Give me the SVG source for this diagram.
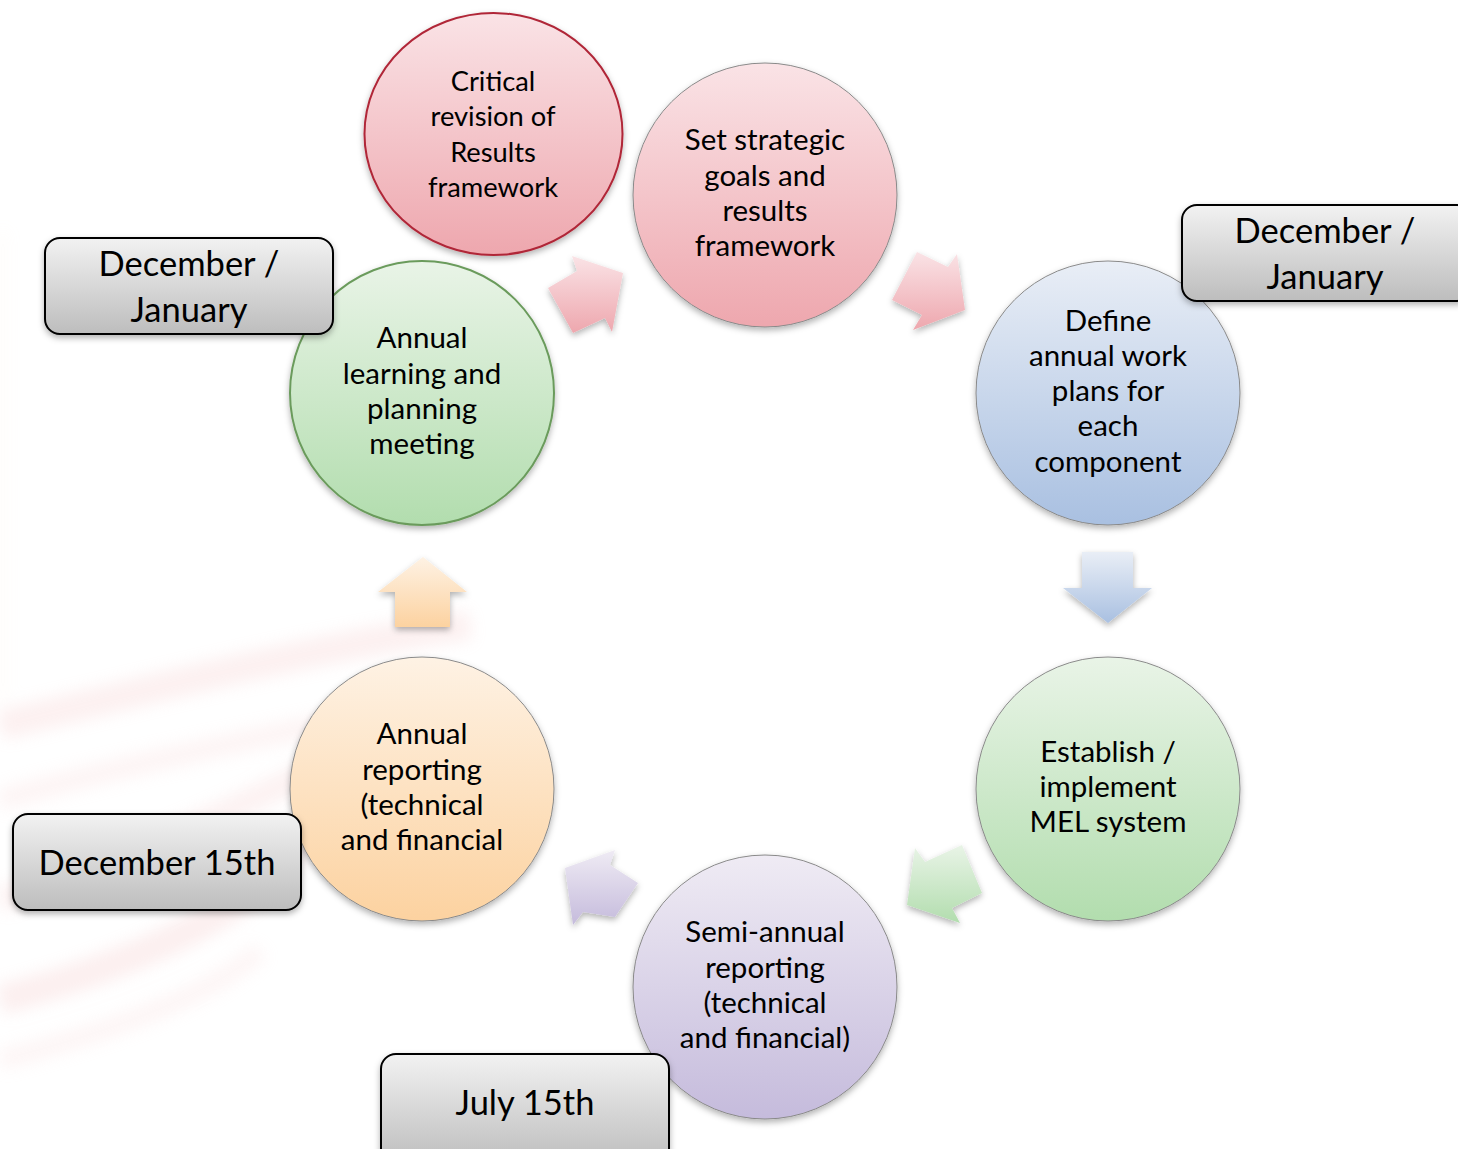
<svg xmlns="http://www.w3.org/2000/svg" width="1458" height="1149" viewBox="0 0 1458 1149">
<defs>
<linearGradient id="gPink" x1="0" y1="0" x2="0" y2="1"><stop offset="0" stop-color="#fae3e6"/><stop offset="1" stop-color="#eea7ae"/></linearGradient>
<linearGradient id="gBlue" x1="0" y1="0" x2="0" y2="1"><stop offset="0" stop-color="#e9eef6"/><stop offset="1" stop-color="#a9c0e1"/></linearGradient>
<linearGradient id="gGreen" x1="0" y1="0" x2="0" y2="1"><stop offset="0" stop-color="#e9f4e7"/><stop offset="1" stop-color="#b2ddae"/></linearGradient>
<linearGradient id="gPurple" x1="0" y1="0" x2="0" y2="1"><stop offset="0" stop-color="#efebf4"/><stop offset="1" stop-color="#c5bbdc"/></linearGradient>
<linearGradient id="gOrange" x1="0" y1="0" x2="0" y2="1"><stop offset="0" stop-color="#fef2e4"/><stop offset="1" stop-color="#fcd2a0"/></linearGradient>
<linearGradient id="gGray" x1="0" y1="0" x2="0" y2="1"><stop offset="0" stop-color="#f2f2f2"/><stop offset="1" stop-color="#bdbdbd"/></linearGradient>
<filter id="sh" x="-20%" y="-20%" width="140%" height="140%"><feDropShadow dx="0" dy="3" stdDeviation="3" flood-color="#000" flood-opacity="0.3"/></filter>
<filter id="blur" x="-10%" y="-10%" width="120%" height="120%"><feGaussianBlur stdDeviation="8"/></filter>
<style>
.ct{font-family:Lato,"Open Sans","Liberation Sans",sans-serif;font-size:29.5px;fill:#000;text-anchor:middle}
.ct2{font-family:Lato,"Open Sans","Liberation Sans",sans-serif;font-size:27.3px;fill:#000;text-anchor:middle}
.lt{font-family:Lato,"Open Sans","Liberation Sans",sans-serif;font-size:34.5px;fill:#000;text-anchor:middle}
.lbl{fill:url(#gGray);stroke:#000;stroke-width:2;filter:url(#sh)}
.arr{filter:url(#sh)}
.cg{stroke:#8a8a8a;stroke-width:1;filter:url(#sh)}
</style>
</defs>
<rect width="1458" height="1149" fill="#fff"/>
<g id="background" opacity="0.2" filter="url(#blur)" fill="none">
<path d="M0,725 C150,690 300,650 470,625" stroke="#f2b8b8" stroke-width="30"/>
<path d="M0,800 C140,760 300,730 440,700" stroke="#f6cccc" stroke-width="22"/>
<path d="M0,900 C120,860 260,800 330,760" stroke="#f3c0c0" stroke-width="26"/>
<path d="M0,1000 C150,960 280,900 310,820" stroke="#f0b0b0" stroke-width="30"/>
<path d="M0,1060 C120,1030 220,990 260,950" stroke="#f6d0d0" stroke-width="20"/>
<path d="M3,230 L3,700" stroke="#fbe2c8" stroke-width="4"/>
</g>
<g id="connectors">
<polygon class="arr" fill="url(#gPink)" points="548,288 577,271 572,256 623,273 612,332 605,318 573,333"/>
<polygon class="arr" fill="url(#gPink)" points="917,252 948,267 957,254 965,310 913,330 922,315 892,300"/>
<polygon class="arr" fill="url(#gBlue)" points="1082,552 1133,552 1133,588 1152,588 1108,623 1063,588 1082,588"/>
<polygon class="arr" fill="url(#gGreen)" points="915,848 925,862 962,845 982,893 952,908 960,923 907,905"/>
<polygon class="arr" fill="url(#gPurple)" points="565,868 615,850 610,865 638,883 615,917 583,912 573,925"/>
<polygon class="arr" fill="url(#gOrange)" points="423,557 467,592 450,592 450,627 395,627 395,592 378,592"/>
</g>
<g id="n-critical">
<ellipse cx="493.5" cy="134" rx="129" ry="121" fill="url(#gPink)" stroke="#b02637" stroke-width="2" filter="url(#sh)"/>
<text class="ct2" x="493" y="91">Critical</text>
<text class="ct2" x="493" y="126">revision of</text>
<text class="ct2" x="493" y="162">Results</text>
<text class="ct2" x="493" y="197">framework</text>
</g>
<g id="n-strategic">
<circle class="cg" cx="765" cy="195" r="132" fill="url(#gPink)"/>
<text class="ct" x="765" y="150">Set strategic</text>
<text class="ct" x="765" y="186">goals and</text>
<text class="ct" x="765" y="221">results</text>
<text class="ct" x="765" y="256">framework</text>
</g>
<g id="n-define">
<circle class="cg" cx="1108" cy="393" r="132" fill="url(#gBlue)"/>
<text class="ct" x="1108" y="331">Define</text>
<text class="ct" x="1108" y="366">annual work</text>
<text class="ct" x="1108" y="401">plans for</text>
<text class="ct" x="1108" y="436">each</text>
<text class="ct" x="1108" y="472">component</text>
</g>
<g id="n-establish">
<circle class="cg" cx="1108" cy="789" r="132" fill="url(#gGreen)"/>
<text class="ct" x="1108" y="762">Establish /</text>
<text class="ct" x="1108" y="797">implement</text>
<text class="ct" x="1108" y="832">MEL system</text>
</g>
<g id="n-semiannual">
<circle class="cg" cx="765" cy="987" r="132" fill="url(#gPurple)"/>
<text class="ct" x="765" y="942">Semi-annual</text>
<text class="ct" x="765" y="978">reporting</text>
<text class="ct" x="765" y="1013">(technical</text>
<text class="ct" x="765" y="1048">and financial)</text>
</g>
<g id="n-annualreport">
<circle class="cg" cx="422" cy="789" r="132" fill="url(#gOrange)"/>
<text class="ct" x="422" y="744">Annual</text>
<text class="ct" x="422" y="780">reporting</text>
<text class="ct" x="422" y="815">(technical</text>
<text class="ct" x="422" y="850">and financial</text>
</g>
<g id="n-learning">
<circle cx="422" cy="393" r="132" fill="url(#gGreen)" stroke="#6b9b5c" stroke-width="2" filter="url(#sh)"/>
<text class="ct" x="422" y="348">Annual</text>
<text class="ct" x="422" y="384">learning and</text>
<text class="ct" x="422" y="419">planning</text>
<text class="ct" x="422" y="454">meeting</text>
</g>
<g id="l-decjan-left">
<rect class="lbl" x="45" y="238" width="288" height="96" rx="15"/>
<text class="lt" x="189" y="276">December /</text>
<text class="lt" x="189" y="322">January</text>
</g>
<g id="l-decjan-right">
<rect class="lbl" x="1182" y="205" width="290" height="96" rx="15"/>
<text class="lt" x="1325" y="243">December /</text>
<text class="lt" x="1325" y="289">January</text>
</g>
<g id="l-dec15">
<rect class="lbl" x="13" y="814" width="288" height="96" rx="15"/>
<text class="lt" x="157" y="875">December 15th</text>
</g>
<g id="l-jul15">
<rect class="lbl" x="381" y="1054" width="288" height="110" rx="15"/>
<text class="lt" x="525" y="1115">July 15th</text>
</g>
</svg>
